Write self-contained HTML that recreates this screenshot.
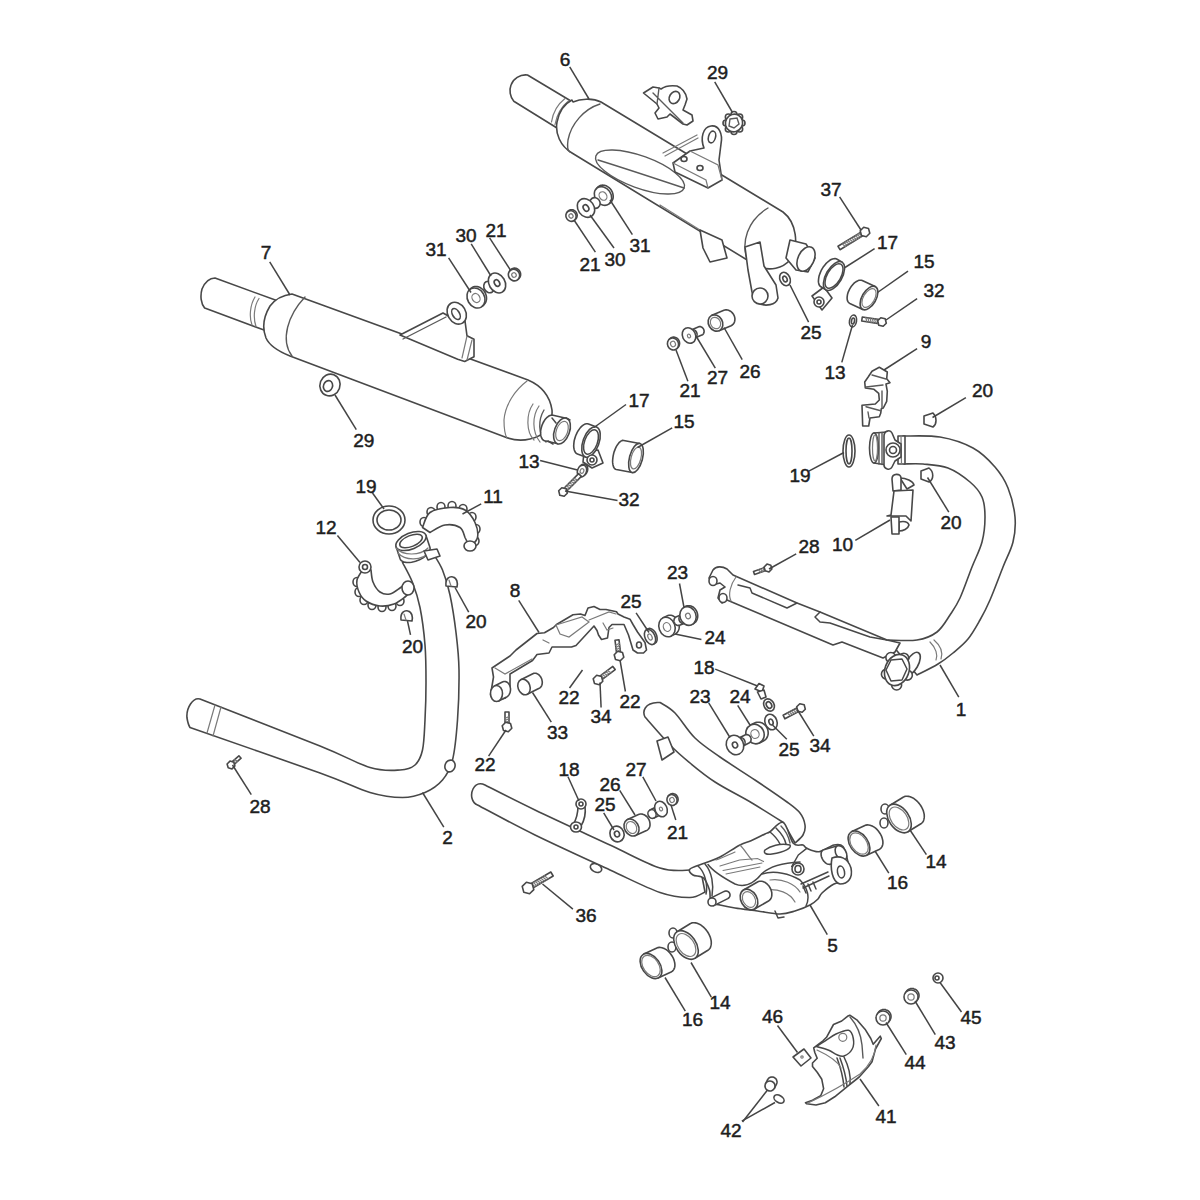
<!DOCTYPE html>
<html><head><meta charset="utf-8"><style>
html,body{margin:0;padding:0;background:#fff;overflow:hidden;}
svg{display:block;}
.o{fill:#fff;stroke:#484848;stroke-width:1.6;stroke-linejoin:round;stroke-linecap:round;}
.n{fill:none;stroke:#484848;stroke-width:1.5;stroke-linejoin:round;stroke-linecap:round;}
.d{fill:none;stroke:#7a7a7a;stroke-width:1.2;stroke-linecap:round;}
.m{fill:none;stroke:#5a5a5a;stroke-width:1.4;stroke-linecap:round;}
.l{stroke:#444;stroke-width:1.5;fill:none;}
text{font-family:"Liberation Sans",sans-serif;font-size:19px;fill:#1e1e1e;stroke:#1e1e1e;stroke-width:0.5px;text-anchor:middle;}
</style></head><body>
<svg width="1200" height="1200" viewBox="0 0 1200 1200">
<rect width="1200" height="1200" fill="#fff"/>

<path class="o" d="M215,278 L276,300.3 C269,308 265,318 264,330 L204.7,308.1 C201,304 200,296 202,289 C205,282 209,278 215,278 Z"/>
<path class="d" d="M255,297 C250,305 249,317 252,325 M259,298.5 C254,306 253,318 256,326.5"/>
<path class="o" d="M292,294 L528,380 C542,386 550,397 552,410 C553,425 545,436 530,439 C522,441 515,441 505,437 L290,356 C280,352 270,347 266,338 C262,328 264,316 270,306 C276,298 284,295 292,294 Z"/>
<path class="m" d="M305,297 C288,315 280,340 292,356"/>
<path class="d" d="M527,381 C515,390 505,405 504,420 C504,430 505,435 507,438"/>
<path class="d" d="M533,404 C526,414 526,432 534,440 M539,406 C532,416 532,432 540,442"/>
<path class="m" d="M544,410 C538,420 538,434 546,442"/>
<path class="o" d="M566.1,418.2 L553.1,415.2 L552.1,415.1 L551.1,415.2 L550.0,415.5 L548.9,416.0 L547.8,416.8 L546.7,417.7 L545.7,418.8 L544.7,420.1 L543.8,421.5 L543.0,423.0 L542.3,424.6 L541.7,426.3 L541.2,428.0 L540.8,429.7 L540.6,431.3 L540.6,432.9 L540.7,434.5 L540.9,435.9 L541.3,437.1 L541.8,438.3 L542.4,439.2 L543.1,440.0 L543.9,440.5 L544.9,440.8 L557.9,443.8 Z"/>
<ellipse cx="562" cy="431" rx="7.5" ry="13.5" transform="rotate(20 562 431)" class="o"/>
<ellipse cx="562" cy="431" rx="5.625" ry="10.125" transform="rotate(20 562 431)" class="d"/>
<path class="n" d="M552,418 L556,423 M548,441 L553,444 M566,418 L570,420"/>
<path class="o" d="M400,335 L443,313 L452,318 L465,321 L467,335.8 L474,339.3 L474,356.8 L464.7,361.5 L457.7,359.2 Z"/>
<path class="m" d="M403,339 L446,317"/>
<path class="d" d="M467,336 L462,358 M472,340 L467,360"/>
<ellipse cx="456.7" cy="313.2" rx="9" ry="11.5" transform="rotate(-30 456.7 313.2)" class="o"/>
<ellipse cx="456" cy="314" rx="3.5" ry="6" transform="rotate(-30 456 314)" class="o"/>
<ellipse cx="330" cy="385" rx="10" ry="11" transform="rotate(20 330 385)" class="o"/>
<ellipse cx="328" cy="386" rx="4.5" ry="5.5" transform="rotate(20 328 386)" class="o"/>
<path class="o" d="M482.7,306.0 L484.2,304.5 L484.9,303.6 L485.5,302.6 L486.0,301.6 L486.3,300.4 L486.5,299.1 L486.5,297.8 L486.4,296.5 L486.1,295.2 L485.7,293.9 L485.1,292.7 L484.4,291.5 L483.6,290.4 L482.7,289.4 L481.6,288.6 L480.6,287.8 L479.4,287.2 L478.3,286.8 L477.1,286.6 L475.9,286.5 L474.7,286.5 L473.6,286.8 L472.6,287.2 L471.7,287.8 L470.8,288.5 L469.3,290.0 Z"/>
<ellipse cx="476" cy="298" rx="8.5" ry="10.5" transform="rotate(-30 476 298)" class="o"/>
<ellipse cx="476" cy="298" rx="3.825" ry="4.7250000000000005" transform="rotate(-30 476 298)" class="d"/>
<ellipse cx="489" cy="287" rx="5" ry="6" transform="rotate(-30 489 287)" class="o"/>
<ellipse cx="497" cy="283" rx="8" ry="10.5" transform="rotate(-30 497 283)" class="o"/>
<ellipse cx="497" cy="283" rx="2.5" ry="3.5" transform="rotate(-30 497 283)" class="o"/>
<path class="o" d="M518.0,279.4 L519.0,278.4 L519.5,277.8 L519.9,277.2 L520.2,276.6 L520.5,275.8 L520.6,275.1 L520.6,274.3 L520.6,273.6 L520.4,272.8 L520.2,272.1 L519.8,271.4 L519.4,270.7 L518.9,270.1 L518.3,269.6 L517.7,269.1 L517.1,268.7 L516.4,268.4 L515.6,268.2 L514.9,268.1 L514.2,268.1 L513.4,268.2 L512.8,268.4 L512.1,268.7 L511.5,269.1 L511.0,269.6 L510.0,270.6 Z"/>
<ellipse cx="514" cy="275" rx="5.5" ry="6" transform="rotate(-30 514 275)" class="o"/>
<ellipse cx="514" cy="275" rx="2.2" ry="2.4000000000000004" transform="rotate(-30 514 275)" class="d"/>
<path class="o" d="M527.5,75 L573,102.2 C566,108 559,117 557,128 L513.8,101.3 C510,97 509,90 511,85 C513,79 520,74 527.5,75 Z"/>
<path class="d" d="M565,98.5 C558,104 553,112 551.5,122 M569,100.5 C562,106 557,114 555,124.5"/>
<path class="o" d="M573,102 C580,99 592,97.5 601,102 L783,212 C796,222 800,245 790,260 C783,268 770,272 757,266 L572,153 C560,146 555,133 557,122 C559,112 564,104 572,100 Z"/>
<path class="m" d="M600,104 C584,109 571,124 568,140 C567,147 568,151 570,152"/>
<path class="m" d="M768,208 C748,220 740,242 748,262"/>
<ellipse cx="640" cy="172" rx="47" ry="16" transform="rotate(20 640 172)" class="m"/>
<path class="m" d="M598,160 C630,170 660,180 684,188"/>
<path class="d" d="M660,205 L700,230"/>
<path class="o" d="M790,240 L806,244 L815,258 L808,272 L796,270 L786,258 Z"/>
<ellipse cx="806" cy="259" rx="8" ry="13" transform="rotate(25 806 259)" class="o"/>
<path class="o" d="M745,247 L760,242 L764,266 L776,285 L778,298 C776,305 766,307 757,303 L752,292 L748,270 Z"/>
<ellipse cx="760" cy="296" rx="8" ry="8" transform="rotate(0 760 296)" class="o"/>
<path class="o" d="M700,230 L722,240 L727,258 L710,262 L703,248 Z"/>
<path class="o" d="M704,148 C700,138 703,127 711,126 C719,125 723,134 721,144 L719,160 L722,180 L708,188 L675,172 L673,163 L690,151 Z"/>
<path class="d" d="M690,151 L718,165 L722,180 M673,163 L706,180 L708,188"/>
<ellipse cx="712" cy="137" rx="3.5" ry="6" transform="rotate(15 712 137)" class="o"/>
<ellipse cx="684" cy="159" rx="3" ry="2.5" transform="rotate(0 684 159)" class="o"/>
<ellipse cx="700" cy="168" rx="3" ry="2.5" transform="rotate(0 700 168)" class="o"/>
<path class="d" d="M663,153 L697,135 M665,156 L698,138"/>
<path class="o" d="M643.5,93 L653,87 L659,88 L661,89 C665,86 669,85 677,86 C682,88 686,93 687,99 L685,105 L683,110 L692,115 L693,121 L687,125 L683,124 L670,114 L667,117 L658,119 L655,113 L659,108 L657,104 Z"/>
<ellipse cx="674.5" cy="97.5" rx="5" ry="6.5" transform="rotate(30 674.5 97.5)" class="o"/>
<path class="m" d="M653,93 L683,123 M659,88 L657,104"/>
<ellipse cx="742.0" cy="123.0" rx="3" ry="3" transform="rotate(0 742.0 123.0)" class="o"/>
<ellipse cx="739.6568542494924" cy="129.01040764008565" rx="3" ry="3" transform="rotate(0 739.6568542494924 129.01040764008565)" class="o"/>
<ellipse cx="734.0" cy="131.5" rx="3" ry="3" transform="rotate(0 734.0 131.5)" class="o"/>
<ellipse cx="728.3431457505076" cy="129.01040764008565" rx="3" ry="3" transform="rotate(0 728.3431457505076 129.01040764008565)" class="o"/>
<ellipse cx="726.0" cy="123.0" rx="3" ry="3" transform="rotate(0 726.0 123.0)" class="o"/>
<ellipse cx="728.3431457505076" cy="116.98959235991434" rx="3" ry="3" transform="rotate(0 728.3431457505076 116.98959235991434)" class="o"/>
<ellipse cx="734.0" cy="114.5" rx="3" ry="3" transform="rotate(0 734.0 114.5)" class="o"/>
<ellipse cx="739.6568542494924" cy="116.98959235991434" rx="3" ry="3" transform="rotate(0 739.6568542494924 116.98959235991434)" class="o"/>
<ellipse cx="734" cy="123" rx="8.5" ry="9" transform="rotate(30 734 123)" class="o"/>
<path class="m" d="M730,119 L737,118 L739,124 L734,128 L729,126 Z"/>
<path class="o" d="M609.6,203.5 L611.1,202.0 L611.8,201.2 L612.3,200.2 L612.8,199.2 L613.1,198.1 L613.2,197.0 L613.2,195.8 L613.0,194.5 L612.7,193.3 L612.3,192.1 L611.7,190.9 L611.0,189.8 L610.2,188.8 L609.3,187.9 L608.3,187.1 L607.2,186.4 L606.1,185.8 L605.0,185.4 L603.9,185.2 L602.7,185.1 L601.6,185.2 L600.6,185.4 L599.6,185.8 L598.7,186.4 L597.9,187.0 L596.4,188.5 Z"/>
<ellipse cx="603" cy="196" rx="8" ry="10" transform="rotate(-35 603 196)" class="o"/>
<ellipse cx="603" cy="196" rx="3.6" ry="4.5" transform="rotate(-35 603 196)" class="d"/>
<ellipse cx="595" cy="203" rx="5" ry="5.5" transform="rotate(-35 595 203)" class="o"/>
<ellipse cx="586" cy="208" rx="8" ry="10" transform="rotate(-35 586 208)" class="o"/>
<ellipse cx="586" cy="208" rx="2.5" ry="3.5" transform="rotate(-35 586 208)" class="o"/>
<path class="o" d="M574.8,220.0 L575.8,219.0 L576.2,218.5 L576.6,217.9 L576.8,217.3 L577.0,216.7 L577.1,216.0 L577.2,215.3 L577.1,214.6 L577.0,213.9 L576.7,213.3 L576.4,212.6 L576.0,212.0 L575.5,211.5 L575.0,211.0 L574.5,210.5 L573.8,210.2 L573.2,209.9 L572.5,209.8 L571.8,209.7 L571.2,209.7 L570.5,209.8 L569.9,210.0 L569.3,210.2 L568.7,210.6 L568.2,211.0 L567.2,212.0 Z"/>
<ellipse cx="571" cy="216" rx="5" ry="5.5" transform="rotate(-35 571 216)" class="o"/>
<ellipse cx="571" cy="216" rx="2.0" ry="2.2" transform="rotate(-35 571 216)" class="d"/>
<path class="o" d="M812,296 L824,287 L832,298 L822,310 Z"/>
<path class="o" d="M842.1,262.2 L837.1,259.2 L836.1,258.8 L835.0,258.6 L833.8,258.7 L832.5,259.0 L831.2,259.5 L829.8,260.3 L828.5,261.3 L827.1,262.5 L825.7,263.9 L824.5,265.4 L823.2,267.1 L822.1,268.9 L821.1,270.7 L820.3,272.6 L819.6,274.5 L819.0,276.3 L818.7,278.1 L818.5,279.9 L818.4,281.5 L818.6,282.9 L818.9,284.2 L819.4,285.3 L820.1,286.2 L820.9,286.8 L825.9,289.8 Z"/>
<ellipse cx="834" cy="276" rx="8" ry="16" transform="rotate(30 834 276)" class="o"/>
<ellipse cx="834" cy="276" rx="6.8" ry="13.6" transform="rotate(30 834 276)" class="n"/>
<ellipse cx="819" cy="302" rx="5" ry="5" transform="rotate(0 819 302)" class="o"/>
<ellipse cx="819" cy="302" rx="2" ry="2" transform="rotate(0 819 302)" class="o"/>
<path class="o" d="M875.2,286.6 L862.2,280.6 L861.3,280.3 L860.3,280.2 L859.3,280.3 L858.2,280.6 L857.0,281.2 L855.9,281.8 L854.7,282.7 L853.6,283.7 L852.5,284.9 L851.4,286.2 L850.5,287.6 L849.6,289.1 L848.9,290.6 L848.2,292.1 L847.7,293.7 L847.4,295.2 L847.2,296.6 L847.1,298.0 L847.2,299.3 L847.4,300.4 L847.8,301.4 L848.4,302.3 L849.0,302.9 L849.8,303.4 L862.8,309.4 Z"/>
<ellipse cx="869" cy="298" rx="7" ry="13" transform="rotate(30 869 298)" class="o"/>
<ellipse cx="869" cy="298" rx="5.6000000000000005" ry="10.4" transform="rotate(30 869 298)" class="d"/>
<path class="o" d="M861.4,231.9 L838.0,246.3 L840.0,249.7 L863.5,235.3 Z"/>
<path class="d" d="M858.8,233.4 L862.3,236.0 M857.0,234.6 L860.4,237.2 M855.1,235.7 L858.6,238.3 M853.2,236.9 L856.7,239.5 M851.3,238.1 L854.8,240.6 M849.5,239.2 L852.9,241.8 M847.6,240.4 L851.1,242.9 M845.7,241.5 L849.2,244.1 M843.9,242.7 L847.3,245.2 M842.0,243.8 L845.4,246.4 "/>
<path class="o" d="M869.8,233.3 L866.3,236.8 L861.5,235.5 L860.2,230.7 L863.7,227.2 L868.5,228.5 Z"/>
<path class="o" d="M879.6,319.6 L862.3,317.0 L861.7,321.0 L879.0,323.6 Z"/>
<path class="d" d="M876.7,319.2 L877.6,323.4 M874.5,318.9 L875.5,323.0 M872.3,318.5 L873.3,322.7 M870.1,318.2 L871.1,322.4 M868.0,317.9 L868.9,322.1 M865.8,317.5 L866.8,321.7 "/>
<path class="o" d="M886.3,323.2 L883.2,326.3 L878.8,325.2 L877.7,320.8 L880.8,317.7 L885.2,318.8 Z"/>
<ellipse cx="853" cy="321" rx="3.5" ry="6" transform="rotate(10 853 321)" class="o"/>
<ellipse cx="853" cy="321" rx="1.5" ry="3" transform="rotate(10 853 321)" class="o"/>
<ellipse cx="785" cy="279" rx="5" ry="7" transform="rotate(-25 785 279)" class="o"/>
<ellipse cx="785" cy="279" rx="2" ry="3" transform="rotate(-25 785 279)" class="o"/>
<path class="o" d="M872.0,371.3 L879.3,367.3 L887.3,372.0 L886.7,378.7 L890.0,382.7 L886.0,384.0 L887.3,391.3 L886.7,401.3 L883.3,408.0 L881.3,408.7 L880.7,413.3 L879.3,416.7 L870.0,418.0 L868.7,426.0 L862.7,426.0 L862.0,405.3 L875.3,404.0 L879.3,400.0 L878.7,393.3 L874.0,389.3 L865.3,388.0 L864.7,382.0 L868.0,377.3 Z"/>
<path class="m" d="M872,375 L886,379 M866,387 L883,385 M866,406.7 L880.7,410.7 M882,391 L882,408 M868,412 L869,418"/>
<path class="o" d="M924,416 L933,413 C937,417 937,424 933,427 L924,424 Z"/>
<path class="o" d="M921,471 L929,468 C934,472 934,479 929,482 L921,479 Z"/>
<ellipse cx="849" cy="451" rx="6" ry="16" transform="rotate(0 849 451)" class="o"/>
<ellipse cx="849" cy="451" rx="3" ry="13" transform="rotate(0 849 451)" class="o"/>
<path class="o" d="M719.1,330.7 L731.1,325.7 L731.9,325.3 L732.6,324.7 L733.3,324.1 L733.8,323.3 L734.3,322.5 L734.6,321.5 L734.8,320.5 L734.9,319.5 L734.9,318.4 L734.7,317.4 L734.4,316.3 L734.0,315.3 L733.5,314.3 L732.8,313.4 L732.1,312.6 L731.3,311.8 L730.5,311.2 L729.5,310.7 L728.6,310.3 L727.6,310.0 L726.7,309.9 L725.7,309.9 L724.8,310.0 L723.9,310.3 L711.9,315.3 Z"/>
<ellipse cx="715.5" cy="323" rx="7" ry="8.5" transform="rotate(-30 715.5 323)" class="o"/>
<ellipse cx="715.5" cy="323" rx="4.8999999999999995" ry="5.949999999999999" transform="rotate(-30 715.5 323)" class="d"/>
<path class="o" d="M694.8,338.1 L701.8,335.1 L702.3,334.9 L702.7,334.6 L703.1,334.2 L703.4,333.8 L703.7,333.3 L703.9,332.8 L704.0,332.3 L704.1,331.7 L704.1,331.1 L704.0,330.5 L703.9,330.0 L703.7,329.4 L703.4,328.9 L703.1,328.4 L702.7,328.0 L702.3,327.6 L701.8,327.2 L701.3,327.0 L700.8,326.8 L700.3,326.6 L699.7,326.6 L699.2,326.6 L698.7,326.7 L698.2,326.9 L691.2,329.9 Z"/>
<ellipse cx="693" cy="334" rx="4" ry="4.5" transform="rotate(-25 693 334)" class="o"/>
<ellipse cx="689" cy="335.5" rx="6.5" ry="8" transform="rotate(-25 689 335.5)" class="o"/>
<ellipse cx="689" cy="336" rx="1.5" ry="2" transform="rotate(-25 689 336)" class="d"/>
<path class="o" d="M677.0,348.4 L678.0,347.4 L678.5,346.9 L678.9,346.3 L679.2,345.6 L679.4,344.9 L679.5,344.1 L679.6,343.4 L679.5,342.6 L679.4,341.8 L679.2,341.1 L678.8,340.4 L678.4,339.7 L677.9,339.1 L677.4,338.5 L676.8,338.1 L676.1,337.7 L675.4,337.4 L674.7,337.2 L674.0,337.1 L673.2,337.1 L672.5,337.2 L671.8,337.4 L671.2,337.7 L670.6,338.1 L670.0,338.6 L669.0,339.6 Z"/>
<ellipse cx="673" cy="344" rx="5.5" ry="6" transform="rotate(-25 673 344)" class="o"/>
<ellipse cx="673" cy="344" rx="2.475" ry="2.7" transform="rotate(-25 673 344)" class="d"/>
<path class="o" d="M903.0,436.0 C909.2,436.2 928.3,435.0 940.0,437.0 C951.7,439.0 963.8,443.0 973.0,448.0 C982.2,453.0 989.2,460.3 995.0,467.0 C1000.8,473.7 1004.7,479.7 1008.0,488.0 C1011.3,496.3 1014.2,508.0 1015.0,517.0 C1015.8,526.0 1015.0,533.7 1013.0,542.0 C1011.0,550.3 1006.8,557.3 1003.0,567.0 C999.2,576.7 993.8,591.2 990.0,600.0 C986.2,608.8 983.7,613.5 980.0,620.0 C976.3,626.5 972.5,633.5 968.0,639.0 C963.5,644.5 958.0,648.8 953.0,653.0 C948.0,657.2 944.0,660.3 938.0,664.0 C932.0,667.7 920.5,673.2 917.0,675.0 L888.0,640.0 C892.8,640.0 908.8,641.3 917.0,640.0 C925.2,638.7 931.5,636.2 937.0,632.0 C942.5,627.8 946.2,620.7 950.0,615.0 C953.8,609.3 956.3,606.0 960.0,598.0 C963.7,590.0 968.3,576.3 972.0,567.0 C975.7,557.7 979.8,550.3 982.0,542.0 C984.2,533.7 985.0,524.5 985.0,517.0 C985.0,509.5 984.5,502.8 982.0,497.0 C979.5,491.2 975.7,486.8 970.0,482.0 C964.3,477.2 955.8,471.0 948.0,468.0 C940.2,465.0 930.3,464.7 923.0,464.0 C915.7,463.3 907.2,464.0 904.0,464.0 Z"/>
<path class="o" d="M898,436 L905,436 L905,464 L898,464 Z"/>
<path class="d" d="M901,436 L901.5,464"/>
<path class="o" d="M874,433 L887,432 L887,465 L874,463 Z"/>
<ellipse cx="874" cy="448" rx="4.5" ry="15" transform="rotate(0 874 448)" class="o"/>
<ellipse cx="875" cy="448" rx="2.5" ry="13" transform="rotate(0 875 448)" class="d"/>
<path class="m" d="M879,433 L879,464 M882,432.5 L882,464.5"/>
<path class="o" d="M884,436 C884,431 890,429 892,433 L895,440 L901,444 L901,457 L895,461 L892,467 C890,471 884,469 884,465 Z"/>
<ellipse cx="893" cy="450" rx="7" ry="7" transform="rotate(0 893 450)" class="o"/>
<ellipse cx="893" cy="450" rx="3.5" ry="3.5" transform="rotate(0 893 450)" class="o"/>
<path class="o" d="M713,570 C716,566 722,566 727,569 L733,575 L797,603 L820,612 L887,640 L900,643 L895,652 L883,658 L842,642 L833,645 L727,600 L722,603 L718,598 L720,590 L725,587 L720,583 L712,585 L709,578 Z"/>
<path class="n" d="M738,585 L750,588 L752,593 L787,608 L797,603 M820,612 L815,617 L820,622 L830,623 L870,637 L887,640"/>
<path class="d" d="M736,577 C730,585 728,595 731,601"/>
<ellipse cx="713" cy="581" rx="4" ry="4.5" transform="rotate(0 713 581)" class="o"/>
<ellipse cx="723" cy="598" rx="4" ry="4.5" transform="rotate(0 723 598)" class="o"/>
<ellipse cx="912" cy="664" rx="6" ry="13" transform="rotate(30 912 664)" class="o"/>
<path class="d" d="M930,642 C936,648 938,655 936,660 M934,640 C941,646 943,653 941,659"/>
<ellipse cx="907.336618828645" cy="675.130302149885" rx="5" ry="5" transform="rotate(0 907.336618828645 675.130302149885)" class="o"/>
<ellipse cx="896.6161055362725" cy="684.9908624052864" rx="5" ry="5" transform="rotate(0 896.6161055362725 684.9908624052864)" class="o"/>
<ellipse cx="886.4261213446784" cy="674.134560337255" rx="5" ry="5" transform="rotate(0 886.4261213446784 674.134560337255)" class="o"/>
<ellipse cx="890.8488780618218" cy="657.5644364116744" rx="5" ry="5" transform="rotate(0 890.8488780618218 657.5644364116744)" class="o"/>
<ellipse cx="903.7722762285822" cy="658.1798386958992" rx="5" ry="5" transform="rotate(0 903.7722762285822 658.1798386958992)" class="o"/>
<ellipse cx="897" cy="670" rx="12" ry="16" transform="rotate(20 897 670)" class="o"/>
<path class="n" d="M891,660 L902,659 L907,669 L902,680 L891,681 L886,670 Z"/>
<path class="o" d="M765.2,567.3 L753.5,571.5 L754.5,574.5 L766.3,570.3 Z"/>
<path class="d" d="M762.4,568.3 L765.0,570.8 M760.3,569.0 L762.9,571.5 M758.2,569.8 L760.8,572.3 "/>
<path class="o" d="M771.9,569.0 L769.0,571.9 L765.2,570.8 L764.1,567.0 L767.0,564.1 L770.8,565.2 Z"/>
<path class="o" d="M402.5,562.5 C404.2,565.8 409.6,575.0 412.5,582.5 C415.4,590.0 417.9,597.1 420.0,607.5 C422.1,617.9 424.0,632.5 425.0,645.0 C426.0,657.5 426.0,670.0 426.0,682.5 C426.0,695.0 425.6,708.8 425.0,720.0 C424.4,731.2 424.2,742.5 422.5,750.0 C420.8,757.5 418.8,761.7 415.0,765.0 C411.2,768.3 407.5,769.6 400.0,770.0 C392.5,770.4 383.3,771.5 370.0,767.5 C356.7,763.5 348.3,757.4 320.0,746.0 C291.7,734.6 220.0,706.8 200.0,699.0 C193,697 186,708 187,718 C188,724 189,726 190,727.5 C211.7,735.1 290.0,762.2 320.0,773.0 C350.0,783.8 356.2,788.4 370.0,792.5 C383.8,796.6 393.3,797.5 402.5,797.5 C411.7,797.5 418.3,795.4 425.0,792.5 C431.7,789.6 437.9,785.4 442.5,780.0 C447.1,774.6 450.0,770.0 452.5,760.0 C455.0,750.0 456.4,735.0 457.5,720.0 C458.6,705.0 459.2,684.6 459.0,670.0 C458.8,655.4 457.5,645.0 456.0,632.5 C454.5,620.0 452.2,605.4 450.0,595.0 C447.8,584.6 445.4,577.1 442.5,570.0 C439.6,562.9 434.2,555.4 432.5,552.5 Z"/>
<ellipse cx="450" cy="766" rx="5" ry="6" transform="rotate(20 450 766)" class="o"/>
<path class="d" d="M215,705 L207,733 M221,707 L213,736"/>
<path class="o" d="M396.1,546.8 L400.1,558.8 L400.5,559.7 L401.2,560.5 L402.2,561.2 L403.3,561.8 L404.7,562.2 L406.2,562.4 L407.9,562.5 L409.7,562.5 L411.6,562.2 L413.6,561.8 L415.6,561.3 L417.5,560.6 L419.5,559.8 L421.3,558.9 L423.1,557.8 L424.7,556.7 L426.1,555.5 L427.3,554.3 L428.4,553.1 L429.2,551.8 L429.8,550.6 L430.1,549.4 L430.1,548.3 L429.9,547.2 L425.9,535.2 Z"/>
<ellipse cx="411" cy="541" rx="16" ry="8" transform="rotate(-22 411 541)" class="o"/>
<ellipse cx="411" cy="541" rx="12" ry="5.5" transform="rotate(-22 411 541)" class="n"/>
<path class="d" d="M396,548 C403,556 420,556 428,548 M398,553 C405,561 422,561 430,552"/>
<path class="o" d="M424,551 L437,549 L440,556 L428,560 Z"/>
<ellipse cx="389" cy="520" rx="16" ry="14" transform="rotate(0 389 520)" class="o"/>
<ellipse cx="389" cy="520" rx="12" ry="10" transform="rotate(0 389 520)" class="o"/>
<ellipse cx="424" cy="522" rx="4" ry="4.5" transform="rotate(0 424 522)" class="o"/>
<ellipse cx="431" cy="512" rx="4" ry="4.5" transform="rotate(0 431 512)" class="o"/>
<ellipse cx="441" cy="507" rx="4" ry="4.5" transform="rotate(0 441 507)" class="o"/>
<ellipse cx="452" cy="506" rx="4" ry="4.5" transform="rotate(0 452 506)" class="o"/>
<ellipse cx="463" cy="509" rx="4" ry="4.5" transform="rotate(0 463 509)" class="o"/>
<ellipse cx="472" cy="517" rx="4" ry="4.5" transform="rotate(0 472 517)" class="o"/>
<ellipse cx="476" cy="529" rx="4" ry="4.5" transform="rotate(0 476 529)" class="o"/>
<ellipse cx="475" cy="541" rx="4" ry="4.5" transform="rotate(0 475 541)" class="o"/>
<path class="o" d="M422.5,527.5 C423.8,525.0 425.4,515.8 430.0,512.5 C434.6,509.2 444.2,507.9 450.0,507.5 C455.8,507.1 460.8,507.5 465.0,510.0 C469.2,512.5 472.9,517.9 475.0,522.5 C477.1,527.1 478.3,533.3 477.5,537.5 C476.7,541.7 471.2,545.8 470.0,547.5 L465.0,537.5 C464.2,535.8 463.3,529.6 460.0,527.5 C456.7,525.4 450.0,524.2 445.0,525.0 C440.0,525.8 432.5,531.2 430.0,532.5 Z"/>
<ellipse cx="470" cy="546" rx="6" ry="5" transform="rotate(0 470 546)" class="o"/>
<ellipse cx="357" cy="582" rx="4" ry="4.5" transform="rotate(0 357 582)" class="o"/>
<ellipse cx="359" cy="592" rx="4" ry="4.5" transform="rotate(0 359 592)" class="o"/>
<ellipse cx="364" cy="600" rx="4" ry="4.5" transform="rotate(0 364 600)" class="o"/>
<ellipse cx="372" cy="605" rx="4" ry="4.5" transform="rotate(0 372 605)" class="o"/>
<ellipse cx="382" cy="607" rx="4" ry="4.5" transform="rotate(0 382 607)" class="o"/>
<ellipse cx="392" cy="606" rx="4" ry="4.5" transform="rotate(0 392 606)" class="o"/>
<ellipse cx="400" cy="601" rx="4" ry="4.5" transform="rotate(0 400 601)" class="o"/>
<path class="o" d="M364.0,568.0 C362.8,570.0 357.8,576.0 357.0,580.0 C356.2,584.0 357.5,588.5 359.0,592.0 C360.5,595.5 362.5,598.7 366.0,601.0 C369.5,603.3 375.3,605.5 380.0,606.0 C384.7,606.5 389.8,605.5 394.0,604.0 C398.2,602.5 402.0,599.3 405.0,597.0 C408.0,594.7 410.8,591.2 412.0,590.0 L407.0,582.0 C405.8,583.0 402.8,586.0 400.0,588.0 C397.2,590.0 393.3,593.3 390.0,594.0 C386.7,594.7 382.8,594.0 380.0,592.0 C377.2,590.0 374.5,585.7 373.0,582.0 C371.5,578.3 371.3,572.0 371.0,570.0 Z"/>
<ellipse cx="365" cy="567" rx="6" ry="6" transform="rotate(0 365 567)" class="o"/>
<ellipse cx="365" cy="567" rx="2.5" ry="2.5" transform="rotate(0 365 567)" class="o"/>
<ellipse cx="408" cy="588" rx="6" ry="7" transform="rotate(0 408 588)" class="o"/>
<path class="o" d="M446,586 C445,578 450,576 453,577 C457,578 458,583 457,587 Z"/>
<path class="d" d="M449,580 L451,586"/>
<path class="o" d="M401,620 C400,612 405,610 408,611 C412,612 413,617 412,621 Z"/>
<path class="d" d="M404,614 L406,620"/>
<path class="o" d="M233.9,764.6 L241.1,758.2 L238.9,755.8 L231.7,762.2 Z"/>
<path class="d" d="M236.1,762.6 L232.8,761.3 M237.7,761.1 L234.4,759.8 "/>
<path class="o" d="M234.9,766.0 L232.0,768.9 L228.2,767.8 L227.1,764.0 L230.0,761.1 L233.8,762.2 Z"/>
<path class="o" d="M492.0,668.0 L510.0,656.0 L516.0,650.0 L537.0,633.5 L544.5,632.8 L553.5,627.5 L556.5,624.5 L573.0,614.8 L580.5,614.0 L585.0,615.5 L588.0,608.0 L594.0,606.5 L600.0,609.5 L606.0,609.5 L616.5,611.8 L618.0,614.0 L624.0,617.0 L630.0,619.2 L633.0,624.5 L637.5,632.0 L645.0,642.5 L646.5,650.0 L643.5,653.0 L637.5,653.0 L633.0,650.0 L628.5,635.0 L624.0,624.5 L612.0,624.5 L609.0,627.5 L607.5,638.0 L601.5,639.5 L598.5,635.0 L597.0,630.5 L594.0,626.0 L576.0,645.5 L571.5,647.0 L552.0,647.0 L549.0,653.0 L537.0,654.5 L532.5,660.5 L510.0,674.0 L510.0,687.5 L505.5,698.0 L495.0,701.0 L490.5,695.0 L492.0,686.0 L493.5,677.0 Z"/>
<path class="o" d="M498.6,701.0 L506.6,697.0 L507.3,696.6 L508.0,696.0 L508.6,695.3 L509.1,694.6 L509.6,693.7 L510.0,692.8 L510.2,691.8 L510.4,690.8 L510.5,689.8 L510.5,688.7 L510.3,687.7 L510.1,686.7 L509.8,685.7 L509.4,684.8 L508.9,684.0 L508.3,683.3 L507.7,682.7 L507.0,682.2 L506.2,681.8 L505.5,681.6 L504.7,681.5 L503.9,681.5 L503.1,681.7 L502.4,682.0 L494.4,686.0 Z"/>
<ellipse cx="496.5" cy="693.5" rx="6" ry="8" transform="rotate(0 496.5 693.5)" class="o"/>
<path class="d" d="M495,668 L505,674 L532,659 M556,625 L582,617 L589,622 L569,637 L560,634 Z M543,640 L549,643 M589,620 L609,612 L616,614"/>
<path class="d" d="M603,623 L607,630 L613,628"/>
<ellipse cx="639" cy="645" rx="2.5" ry="3" transform="rotate(0 639 645)" class="o"/>
<path class="o" d="M653.8,644.0 L655.3,643.0 L655.8,642.6 L656.3,642.1 L656.6,641.4 L656.9,640.7 L657.1,639.9 L657.1,639.0 L657.1,638.1 L657.0,637.1 L656.8,636.1 L656.5,635.1 L656.1,634.1 L655.7,633.2 L655.2,632.3 L654.6,631.5 L653.9,630.7 L653.2,630.1 L652.5,629.5 L651.8,629.1 L651.0,628.7 L650.3,628.5 L649.6,628.4 L648.9,628.5 L648.3,628.7 L647.7,629.0 L646.2,630.0 Z"/>
<ellipse cx="650" cy="637" rx="5" ry="8" transform="rotate(-25 650 637)" class="o"/>
<ellipse cx="650" cy="637" rx="2.0" ry="3.2" transform="rotate(-25 650 637)" class="d"/>
<path class="o" d="M620.6,652.8 L619.0,639.8 L615.0,640.2 L616.6,653.3 Z"/>
<path class="d" d="M620.2,649.8 L616.5,651.9 M620.0,647.6 L616.2,649.7 M619.7,645.4 L615.9,647.5 M619.4,643.2 L615.7,645.3 "/>
<path class="o" d="M623.8,657.3 L620.3,660.8 L615.5,659.5 L614.2,654.7 L617.7,651.2 L622.5,652.5 Z"/>
<path class="o" d="M601.6,679.8 L615.2,669.6 L612.8,666.4 L599.2,676.6 Z"/>
<path class="d" d="M604.0,678.0 L600.3,675.8 M605.8,676.7 L602.1,674.4 M607.5,675.4 L603.8,673.1 M609.3,674.0 L605.6,671.8 M611.0,672.7 L607.4,670.5 "/>
<path class="o" d="M602.8,681.3 L599.3,684.8 L594.5,683.5 L593.2,678.7 L596.7,675.2 L601.5,676.5 Z"/>
<path class="o" d="M527.2,694.3 L539.2,688.3 L539.9,687.9 L540.5,687.4 L541.0,686.7 L541.5,686.0 L541.8,685.2 L542.1,684.3 L542.2,683.3 L542.3,682.3 L542.2,681.3 L542.0,680.3 L541.8,679.3 L541.4,678.3 L540.9,677.4 L540.4,676.5 L539.7,675.7 L539.1,675.0 L538.3,674.4 L537.5,673.9 L536.7,673.6 L535.9,673.3 L535.1,673.2 L534.3,673.2 L533.5,673.4 L532.8,673.7 L520.8,679.7 Z"/>
<ellipse cx="524" cy="687" rx="6" ry="8" transform="rotate(-20 524 687)" class="o"/>
<path class="o" d="M509.0,724.0 L509.0,712.0 L505.0,712.0 L505.0,724.0 Z"/>
<path class="d" d="M509.0,721.0 L505.0,722.6 M509.0,718.8 L505.0,720.4 M509.0,716.6 L505.0,718.2 "/>
<path class="o" d="M511.8,728.3 L508.3,731.8 L503.5,730.5 L502.2,725.7 L505.7,722.2 L510.5,723.5 Z"/>
<path class="o" d="M671.1,636.1 L675.1,634.1 L676.0,633.6 L676.8,632.9 L677.5,632.0 L678.1,631.1 L678.6,630.0 L679.0,628.9 L679.2,627.7 L679.3,626.4 L679.2,625.2 L679.0,623.9 L678.6,622.6 L678.2,621.4 L677.6,620.3 L676.9,619.2 L676.1,618.2 L675.2,617.3 L674.2,616.6 L673.2,616.0 L672.1,615.6 L671.0,615.3 L670.0,615.2 L668.9,615.3 L667.9,615.5 L666.9,615.9 L662.9,617.9 Z"/>
<ellipse cx="667" cy="627" rx="8" ry="10" transform="rotate(-20 667 627)" class="o"/>
<ellipse cx="667" cy="627" rx="3.6" ry="4.5" transform="rotate(-20 667 627)" class="d"/>
<path class="o" d="M681.4,614.8 L676.4,616.8 L675.9,617.0 L675.5,617.3 L675.1,617.7 L674.7,618.1 L674.4,618.6 L674.2,619.1 L674.1,619.6 L674.0,620.2 L673.9,620.8 L674.0,621.4 L674.1,621.9 L674.3,622.5 L674.5,623.0 L674.8,623.5 L675.2,624.0 L675.6,624.4 L676.1,624.7 L676.5,625.0 L677.0,625.2 L677.6,625.4 L678.1,625.4 L678.6,625.4 L679.1,625.3 L679.6,625.2 L684.6,623.2 Z"/>
<ellipse cx="683" cy="619" rx="4" ry="4.5" transform="rotate(-20 683 619)" class="o"/>
<path class="o" d="M692.7,624.2 L694.2,623.2 L695.0,622.5 L695.8,621.8 L696.4,620.9 L696.9,619.9 L697.3,618.8 L697.6,617.6 L697.7,616.4 L697.7,615.2 L697.5,614.0 L697.2,612.8 L696.8,611.6 L696.2,610.5 L695.5,609.5 L694.8,608.6 L693.9,607.7 L693.0,607.0 L692.0,606.5 L690.9,606.0 L689.9,605.8 L688.8,605.7 L687.7,605.7 L686.7,605.9 L685.7,606.3 L684.8,606.8 L683.3,607.8 Z"/>
<ellipse cx="688" cy="616" rx="8" ry="9.5" transform="rotate(-20 688 616)" class="o"/>
<ellipse cx="688" cy="616" rx="2.4" ry="2.85" transform="rotate(-20 688 616)" class="d"/>
<ellipse cx="596" cy="868" rx="6" ry="4" transform="rotate(25 596 868)" class="o"/>
<path class="o" d="M485.0,785.0 C493.3,789.2 514.2,800.0 535.0,810.0 C555.8,820.0 589.2,835.3 610.0,845.0 C630.8,854.7 646.7,863.8 660.0,868.0 C673.3,872.2 683.3,870.3 690.0,870.0 C696.7,869.7 698.3,866.7 700.0,866.0 L705.0,892.0 C702.5,892.9 697.5,897.4 690.0,897.5 C682.5,897.6 673.3,897.1 660.0,892.5 C646.7,887.9 630.8,879.6 610.0,870.0 C589.2,860.4 557.1,845.8 535.0,835.0 C512.9,824.2 487.1,810.0 477.5,805.0 C472,803 470,795 473,789 C476,783 481,783 485,785 Z"/>
<path class="o" d="M660.0,702.5 C662.5,704.2 669.2,707.1 675.0,713.0 C680.8,718.9 687.5,730.7 695.0,738.0 C702.5,745.3 710.0,750.0 720.0,757.0 C730.0,764.0 743.8,772.5 755.0,780.0 C766.2,787.5 779.5,796.5 787.0,802.0 C794.5,807.5 797.0,809.2 800.0,813.0 C803.0,816.8 804.5,821.3 805.0,825.0 C805.5,828.7 804.7,832.0 803.0,835.0 C801.3,838.0 796.3,841.7 795.0,843.0 L783.3,822.5 C778.1,819.2 763.4,809.8 752.0,803.0 C740.6,796.2 725.3,788.7 715.0,782.0 C704.7,775.3 697.5,769.2 690.0,763.0 C682.5,756.8 677.5,752.7 670.0,745.0 C662.5,737.3 649.2,721.7 645.0,717.0 C642,711 645,703 657.5,702.5 Z"/>
<path class="o" d="M657,741 L668,737 L674,752 L662,760 Z"/>
<path class="o" d="M690.0,869.0 C692.0,867.0 700.0,865.0 705.0,863.0 C710.0,861.0 714.2,860.0 720.0,857.0 C725.8,854.0 734.8,847.7 740.0,845.0 C745.2,842.3 746.8,842.6 751.0,840.8 C755.2,839.0 761.8,835.5 765.0,834.0 C768.2,832.5 767.0,833.6 770.0,831.7 C773.0,829.8 779.4,820.6 783.3,822.5 C787.2,824.4 790.0,839.5 793.3,843.3 C796.6,847.0 800.8,844.2 803.0,845.0 C805.2,845.8 804.0,847.2 806.7,848.3 C809.4,849.4 814.5,852.2 819.0,851.7 C823.5,851.2 830.0,845.9 834.0,845.0 C838.0,844.1 840.8,844.0 843.0,846.5 C845.2,849.0 846.2,855.2 847.5,860.0 C848.8,864.8 850.8,871.5 850.5,875.0 C850.2,878.5 848.8,879.5 846.0,881.0 C843.2,882.5 838.0,882.0 834.0,884.0 C830.0,886.0 824.7,890.5 822.0,893.0 C819.3,895.5 820.0,897.0 818.0,899.0 C816.0,901.0 813.8,903.0 810.0,905.0 C806.2,907.0 800.0,909.5 795.0,911.0 C790.0,912.5 786.2,914.0 780.0,914.0 C773.8,914.0 765.0,912.0 757.5,911.0 C750.0,910.0 741.2,909.0 735.0,908.0 C728.8,907.0 724.0,906.0 720.0,905.0 C716.0,904.0 712.8,904.5 711.0,902.0 C709.2,899.5 710.8,894.0 709.5,890.0 C708.2,886.0 706.2,880.5 703.5,878.0 C700.8,875.5 695.2,876.5 693.0,875.0 C690.8,873.5 688.0,871.0 690.0,869.0 Z"/>
<path class="n" d="M770,832 C775,836 778,840 780,844 M776,828 C781,833 785,839 786,844"/>
<path class="m" d="M781,826 C786,831 789,838 790,843"/>
<path class="n" d="M698,866 C705,872 708,885 706,894 M705,864 C712,872 714,885 712,896"/>
<path class="d" d="M720,866 L739.5,860 L757.5,858.5 L763.5,861.5 M723,870.5 L762,863 M726,874 L760,867"/>
<path class="n" d="M765,850 C770,846 780,843 790,845 C792,848 785,852 772,854 C766,855 763,853 765,850 Z"/>
<path class="n" d="M806.7,848.3 L798.3,855 L791.7,866.7"/>
<path class="d" d="M716,860 C722,858 728,855 735,852"/>
<path class="n" d="M708,864.5 C712,870 720,876 735,884 C742,887 752,886 762,873.5 C770,866 782,863 800,862"/>
<path class="d" d="M740,845 C745,850 748,856 752,860"/>
<path class="n" d="M762,874 C775,870 790,874 800,880 C808,888 810,898 806,906"/>
<path class="d" d="M770,880 C782,878 795,884 800,892 M765,890 C778,888 790,893 795,902"/>
<path class="o" d="M837.7,845.8 L823.7,849.8 L823.1,850.0 L822.6,850.4 L822.1,850.9 L821.7,851.4 L821.4,852.1 L821.2,852.9 L821.1,853.7 L821.1,854.6 L821.2,855.5 L821.4,856.5 L821.7,857.4 L822.1,858.4 L822.6,859.3 L823.1,860.2 L823.7,861.1 L824.4,861.8 L825.1,862.5 L825.9,863.1 L826.6,863.6 L827.4,864.0 L828.2,864.2 L828.9,864.3 L829.6,864.4 L830.3,864.2 L844.3,860.2 Z"/>
<ellipse cx="841" cy="853" rx="5" ry="8" transform="rotate(-30 841 853)" class="o"/>
<path class="o" d="M832,858 C840,855 848,858 851,868 C853,878 848,884 840,884 C832,882 830,868 832,858 Z"/>
<ellipse cx="841" cy="872" rx="3.5" ry="6" transform="rotate(-10 841 872)" class="o"/>
<ellipse cx="798" cy="869" rx="6" ry="6" transform="rotate(0 798 869)" class="o"/>
<ellipse cx="798" cy="869" rx="3" ry="3.5" transform="rotate(0 798 869)" class="o"/>
<path class="n" d="M801,884 L828,872 M803,888 L829,876"/>
<path class="n" d="M803,886 L806,893 M808,884 L811,891 M813,882 L816,889"/>
<path class="n" d="M775,911 L778,918 L784,917"/>
<path class="o" d="M754.5,909.0 L768.5,901.0 L769.3,900.4 L770.1,899.7 L770.7,898.8 L771.2,897.8 L771.6,896.7 L771.8,895.4 L771.8,894.2 L771.8,892.8 L771.5,891.5 L771.1,890.1 L770.6,888.8 L769.9,887.5 L769.2,886.3 L768.3,885.2 L767.3,884.2 L766.3,883.3 L765.2,882.5 L764.0,881.9 L762.9,881.5 L761.7,881.3 L760.6,881.2 L759.5,881.3 L758.5,881.5 L757.5,882.0 L743.5,890.0 Z"/>
<ellipse cx="749" cy="899.5" rx="8" ry="11" transform="rotate(-30 749 899.5)" class="o"/>
<ellipse cx="749" cy="899.5" rx="6.0" ry="8.25" transform="rotate(-30 749 899.5)" class="d"/>
<path class="o" d="M713.8,905.6 L727.8,898.6 L728.2,898.3 L728.7,898.0 L729.0,897.6 L729.3,897.2 L729.6,896.7 L729.8,896.3 L729.9,895.8 L730.0,895.2 L730.0,894.7 L729.9,894.2 L729.8,893.7 L729.6,893.2 L729.3,892.8 L729.0,892.3 L728.6,892.0 L728.2,891.7 L727.7,891.4 L727.3,891.2 L726.8,891.1 L726.2,891.0 L725.7,891.0 L725.2,891.1 L724.7,891.2 L724.2,891.4 L710.2,898.4 Z"/>
<ellipse cx="712" cy="902" rx="4" ry="4" transform="rotate(0 712 902)" class="o"/>
<path class="o" d="M755,689 L759,683.5 L764,686 L762,692 Z"/>
<path class="o" d="M757.5,692 L764,690 L766,697 L761,699 Z"/>
<ellipse cx="769" cy="705" rx="5" ry="6.5" transform="rotate(-30 769 705)" class="o"/>
<ellipse cx="769" cy="705" rx="2.5" ry="3.5" transform="rotate(-30 769 705)" class="o"/>
<ellipse cx="771" cy="722" rx="6" ry="8" transform="rotate(-20 771 722)" class="o"/>
<ellipse cx="771" cy="722" rx="2" ry="3" transform="rotate(-20 771 722)" class="o"/>
<path class="o" d="M759.4,743.0 L763.4,741.0 L764.4,740.4 L765.4,739.6 L766.2,738.7 L766.9,737.8 L767.4,736.7 L767.8,735.5 L768.1,734.3 L768.2,733.0 L768.1,731.7 L767.9,730.4 L767.6,729.2 L767.1,728.0 L766.4,726.8 L765.6,725.8 L764.7,724.8 L763.8,724.0 L762.7,723.3 L761.6,722.8 L760.4,722.4 L759.2,722.2 L758.0,722.2 L756.8,722.3 L755.7,722.6 L754.6,723.0 L750.6,725.0 Z"/>
<ellipse cx="755" cy="734" rx="9" ry="10" transform="rotate(-25 755 734)" class="o"/>
<ellipse cx="755" cy="734" rx="4.05" ry="4.5" transform="rotate(-25 755 734)" class="d"/>
<path class="o" d="M743.0,746.0 L749.0,743.0 L749.4,742.8 L749.8,742.4 L750.2,742.0 L750.5,741.6 L750.8,741.1 L750.9,740.6 L751.0,740.0 L751.1,739.5 L751.1,738.9 L751.0,738.3 L750.8,737.8 L750.6,737.2 L750.3,736.7 L749.9,736.2 L749.5,735.8 L749.1,735.4 L748.6,735.1 L748.1,734.9 L747.6,734.7 L747.1,734.6 L746.5,734.6 L746.0,734.6 L745.5,734.8 L745.0,735.0 L739.0,738.0 Z"/>
<ellipse cx="741" cy="742" rx="4" ry="4.5" transform="rotate(-25 741 742)" class="o"/>
<ellipse cx="735" cy="745" rx="8.5" ry="10" transform="rotate(-25 735 745)" class="o"/>
<ellipse cx="735" cy="745" rx="2.5" ry="3" transform="rotate(-25 735 745)" class="o"/>
<path class="o" d="M797.7,707.5 L783.1,715.2 L784.9,718.8 L799.5,711.0 Z"/>
<path class="d" d="M795.0,708.9 L798.3,711.7 M793.1,709.9 L796.4,712.7 M791.1,711.0 L794.4,713.7 M789.2,712.0 L792.5,714.8 M787.2,713.0 L790.5,715.8 "/>
<path class="o" d="M805.3,709.2 L802.2,712.3 L797.8,711.2 L796.7,706.8 L799.8,703.7 L804.2,704.8 Z"/>
<path class="o" d="M578,806 L585,806 C586,814 584,821 581,826 L573,825 C576,820 578,813 578,806 Z"/>
<ellipse cx="581" cy="804" rx="5" ry="5" transform="rotate(0 581 804)" class="o"/>
<ellipse cx="581" cy="804" rx="2" ry="2" transform="rotate(0 581 804)" class="o"/>
<ellipse cx="576" cy="827" rx="5.5" ry="5" transform="rotate(0 576 827)" class="o"/>
<ellipse cx="576" cy="827" rx="2" ry="2" transform="rotate(0 576 827)" class="o"/>
<ellipse cx="617" cy="834" rx="7" ry="8" transform="rotate(-20 617 834)" class="o"/>
<ellipse cx="617" cy="834" rx="2.5" ry="3" transform="rotate(-20 617 834)" class="o"/>
<path class="o" d="M635.5,835.5 L646.5,830.5 L647.3,830.1 L648.0,829.5 L648.7,828.8 L649.2,828.0 L649.6,827.1 L649.9,826.1 L650.0,825.1 L650.0,824.0 L649.9,822.9 L649.7,821.8 L649.4,820.7 L648.9,819.6 L648.3,818.6 L647.6,817.6 L646.9,816.7 L646.0,816.0 L645.1,815.3 L644.2,814.8 L643.2,814.4 L642.2,814.1 L641.2,814.0 L640.3,814.0 L639.3,814.2 L638.5,814.5 L627.5,819.5 Z"/>
<ellipse cx="631.5" cy="827.5" rx="7" ry="9" transform="rotate(-30 631.5 827.5)" class="o"/>
<ellipse cx="631.5" cy="827.5" rx="4.8999999999999995" ry="6.3" transform="rotate(-30 631.5 827.5)" class="d"/>
<path class="o" d="M654.0,818.0 L660.0,815.0 L660.4,814.8 L660.8,814.4 L661.2,814.0 L661.5,813.6 L661.8,813.1 L661.9,812.6 L662.0,812.0 L662.1,811.5 L662.1,810.9 L662.0,810.3 L661.8,809.8 L661.6,809.2 L661.3,808.7 L660.9,808.2 L660.5,807.8 L660.1,807.4 L659.6,807.1 L659.1,806.9 L658.6,806.7 L658.1,806.6 L657.5,806.6 L657.0,806.6 L656.5,806.8 L656.0,807.0 L650.0,810.0 Z"/>
<ellipse cx="652" cy="814" rx="4" ry="4.5" transform="rotate(-25 652 814)" class="o"/>
<ellipse cx="661" cy="809" rx="6" ry="8" transform="rotate(-25 661 809)" class="o"/>
<ellipse cx="661" cy="809" rx="1.5" ry="2" transform="rotate(-25 661 809)" class="d"/>
<path class="o" d="M675.6,804.1 L676.6,803.1 L677.1,802.6 L677.4,802.0 L677.7,801.4 L677.9,800.7 L678.1,800.1 L678.1,799.4 L678.0,798.6 L677.9,797.9 L677.7,797.3 L677.4,796.6 L677.0,796.0 L676.6,795.4 L676.1,794.9 L675.5,794.5 L674.9,794.1 L674.3,793.9 L673.6,793.7 L673.0,793.6 L672.3,793.6 L671.6,793.7 L671.0,793.9 L670.4,794.1 L669.9,794.5 L669.4,794.9 L668.4,795.9 Z"/>
<ellipse cx="672" cy="800" rx="5" ry="5.5" transform="rotate(-25 672 800)" class="o"/>
<ellipse cx="672" cy="800" rx="2.25" ry="2.475" transform="rotate(-25 672 800)" class="d"/>
<path class="o" d="M532.3,888.2 L553.2,876.0 L550.8,872.0 L530.0,884.2 Z"/>
<path class="d" d="M534.9,886.7 L531.2,883.5 M536.8,885.6 L533.1,882.4 M538.7,884.4 L535.0,881.3 M540.6,883.3 L536.9,880.2 M542.5,882.2 L538.8,879.1 M544.4,881.1 L540.7,878.0 M546.3,880.0 L542.6,876.8 M548.2,878.9 L544.5,875.7 "/>
<path class="o" d="M533.8,889.6 L529.6,893.8 L523.8,892.2 L522.2,886.4 L526.4,882.2 L532.2,883.8 Z"/>
<path class="o" d="M866.1,855.5 L879.1,849.5 L880.1,848.9 L881.0,848.1 L881.7,847.1 L882.3,846.0 L882.7,844.7 L882.9,843.3 L882.9,841.8 L882.7,840.2 L882.3,838.6 L881.8,836.9 L881.1,835.3 L880.2,833.7 L879.2,832.2 L878.1,830.7 L876.9,829.4 L875.6,828.2 L874.2,827.2 L872.8,826.3 L871.4,825.7 L870.0,825.2 L868.6,825.0 L867.3,824.9 L866.0,825.1 L864.9,825.5 L851.9,831.5 Z"/>
<ellipse cx="859" cy="843.5" rx="9" ry="14" transform="rotate(-35 859 843.5)" class="o"/>
<ellipse cx="859" cy="843.5" rx="7.6499999999999995" ry="11.9" transform="rotate(-35 859 843.5)" class="d"/>
<ellipse cx="885" cy="809" rx="4" ry="5" transform="rotate(0 885 809)" class="o"/>
<ellipse cx="884" cy="823" rx="4" ry="5" transform="rotate(0 884 823)" class="o"/>
<path class="o" d="M907.9,831.8 L920.9,823.8 L921.9,823.0 L922.8,822.0 L923.5,820.8 L923.9,819.4 L924.2,817.9 L924.3,816.2 L924.2,814.4 L923.8,812.6 L923.3,810.7 L922.5,808.9 L921.6,807.0 L920.5,805.3 L919.3,803.6 L917.9,802.0 L916.5,800.6 L914.9,799.3 L913.4,798.2 L911.8,797.4 L910.2,796.7 L908.6,796.4 L907.1,796.2 L905.6,796.3 L904.3,796.6 L903.1,797.2 L890.1,805.2 Z"/>
<ellipse cx="899" cy="818.5" rx="10" ry="16" transform="rotate(-35 899 818.5)" class="o"/>
<ellipse cx="899" cy="818.5" rx="8.0" ry="12.8" transform="rotate(-35 899 818.5)" class="d"/>
<path class="o" d="M658.1,978.0 L671.1,972.0 L672.1,971.4 L673.0,970.6 L673.7,969.6 L674.3,968.5 L674.7,967.2 L674.9,965.8 L674.9,964.3 L674.7,962.7 L674.3,961.1 L673.8,959.4 L673.1,957.8 L672.2,956.2 L671.2,954.7 L670.1,953.2 L668.9,951.9 L667.6,950.7 L666.2,949.7 L664.8,948.8 L663.4,948.2 L662.0,947.7 L660.6,947.5 L659.3,947.4 L658.0,947.6 L656.9,948.0 L643.9,954.0 Z"/>
<ellipse cx="651" cy="966" rx="9" ry="14" transform="rotate(-35 651 966)" class="o"/>
<ellipse cx="651" cy="966" rx="7.6499999999999995" ry="11.9" transform="rotate(-35 651 966)" class="d"/>
<ellipse cx="673" cy="933" rx="4" ry="5" transform="rotate(0 673 933)" class="o"/>
<ellipse cx="672" cy="947" rx="4" ry="5" transform="rotate(0 672 947)" class="o"/>
<path class="o" d="M694.9,958.3 L707.9,950.3 L708.9,949.5 L709.8,948.5 L710.5,947.3 L710.9,945.9 L711.2,944.4 L711.3,942.7 L711.2,940.9 L710.8,939.1 L710.3,937.2 L709.5,935.4 L708.6,933.5 L707.5,931.8 L706.3,930.1 L704.9,928.5 L703.5,927.1 L701.9,925.8 L700.4,924.7 L698.8,923.9 L697.2,923.2 L695.6,922.9 L694.1,922.7 L692.6,922.8 L691.3,923.1 L690.1,923.7 L677.1,931.7 Z"/>
<ellipse cx="686" cy="945" rx="10" ry="16" transform="rotate(-35 686 945)" class="o"/>
<ellipse cx="686" cy="945" rx="8.0" ry="12.8" transform="rotate(-35 686 945)" class="d"/>
<path class="o" d="M813.7,1047.8 L818.3,1044.3 L823.0,1040.8 L826.5,1037.3 L833.5,1024.5 L841.7,1021.0 L847.5,1016.3 L849.8,1015.2 L856.8,1019.8 L865.0,1029.2 L870.8,1038.5 L873.2,1044.3 L880.2,1036.2 L881.3,1038.5 L875.5,1049.0 L872.0,1061.8 L868.5,1066.5 L859.2,1077.0 L847.5,1086.3 L834.7,1096.8 L825.3,1102.7 L816.0,1105.0 L806.7,1103.8 L805.5,1102.7 L812.5,1100.3 L820.7,1095.7 L823.6,1088.7 L821.8,1079.3 L817.2,1072.3 L812.5,1066.5 L812.5,1063.0 L817.2,1058.3 L814.8,1052.5 Z"/>
<path class="n" d="M816.0,1046.7 C817.5,1045.7 822.0,1042.9 825.3,1040.8 C828.6,1038.7 832.1,1035.8 836.0,1034.0 C839.9,1032.2 845.8,1029.5 848.7,1030.3 C851.6,1031.0 852.7,1035.4 853.3,1038.5 C853.9,1041.6 853.8,1046.1 852.2,1049.0 C850.7,1051.9 846.5,1055.0 844.0,1056.0 C841.5,1057.0 839.5,1055.8 837.0,1054.8 C834.5,1053.8 832.1,1051.5 828.8,1050.2 C825.5,1048.9 819.1,1047.3 817.2,1046.7 "/>
<ellipse cx="842.8" cy="1037.3" rx="4" ry="4" transform="rotate(0 842.8 1037.3)" class="d"/>
<path class="n" d="M837,1058 C840,1066 843,1076 844,1087 M844,1057 C848,1065 851,1075 850,1084 M840,1058 C843,1066 846,1076 847,1086"/>
<path class="m" d="M850,1017 C857,1025 861,1035 862,1045 L863,1058"/>
<path class="d" d="M808,1103 C825,1095 845,1084 860,1074 C870,1065 875,1055 876,1045"/>
<path class="d" d="M817,1050 C830,1056 838,1062 841,1068"/>
<ellipse cx="938" cy="978" rx="5" ry="5" transform="rotate(0 938 978)" class="o"/>
<ellipse cx="937" cy="978" rx="2" ry="2" transform="rotate(0 937 978)" class="o"/>
<path class="o" d="M916.8,1000.9 L917.8,999.4 L918.3,998.6 L918.6,997.7 L918.9,996.9 L919.0,996.0 L919.0,995.0 L918.9,994.1 L918.6,993.2 L918.3,992.4 L917.8,991.6 L917.3,990.9 L916.6,990.2 L915.9,989.7 L915.1,989.2 L914.2,988.9 L913.4,988.6 L912.5,988.5 L911.5,988.5 L910.6,988.6 L909.7,988.9 L908.9,989.2 L908.1,989.7 L907.4,990.2 L906.7,990.9 L906.2,991.6 L905.2,993.1 Z"/>
<ellipse cx="911" cy="997" rx="7" ry="7" transform="rotate(0 911 997)" class="o"/>
<ellipse cx="911" cy="997" rx="3.15" ry="3.15" transform="rotate(0 911 997)" class="d"/>
<path class="o" d="M888.8,1021.9 L889.8,1020.4 L890.3,1019.6 L890.6,1018.7 L890.9,1017.9 L891.0,1017.0 L891.0,1016.0 L890.9,1015.1 L890.6,1014.2 L890.3,1013.4 L889.8,1012.6 L889.3,1011.9 L888.6,1011.2 L887.9,1010.7 L887.1,1010.2 L886.2,1009.9 L885.4,1009.6 L884.5,1009.5 L883.5,1009.5 L882.6,1009.6 L881.7,1009.9 L880.9,1010.2 L880.1,1010.7 L879.4,1011.2 L878.7,1011.9 L878.2,1012.6 L877.2,1014.1 Z"/>
<ellipse cx="883" cy="1018" rx="7" ry="7" transform="rotate(0 883 1018)" class="o"/>
<ellipse cx="883" cy="1018" rx="3.15" ry="3.15" transform="rotate(0 883 1018)" class="d"/>
<path class="o" d="M793,1057 L804,1049 L811,1058 L801,1066 Z"/>
<ellipse cx="802" cy="1057" rx="1.2" ry="1.2" transform="rotate(0 802 1057)" class="d"/>
<path class="o" d="M774.5,1088.2 L776.5,1084.2 L776.7,1083.6 L776.9,1083.0 L777.0,1082.4 L777.0,1081.7 L776.9,1081.1 L776.7,1080.4 L776.5,1079.8 L776.2,1079.2 L775.8,1078.7 L775.3,1078.3 L774.8,1077.9 L774.2,1077.5 L773.6,1077.3 L773.0,1077.1 L772.4,1077.0 L771.7,1077.0 L771.1,1077.1 L770.4,1077.3 L769.8,1077.5 L769.2,1077.8 L768.7,1078.2 L768.3,1078.7 L767.9,1079.2 L767.5,1079.8 L765.5,1083.8 Z"/>
<ellipse cx="770" cy="1086" rx="5" ry="5" transform="rotate(-20 770 1086)" class="o"/>
<ellipse cx="779" cy="1099" rx="5.5" ry="3.5" transform="rotate(30 779 1099)" class="o"/>
<path class="o" d="M584,452 L598,450 L603,463 L592,468 L583,462 Z"/>
<path class="o" d="M596.5,427.0 L588.5,424.0 L587.5,423.7 L586.4,423.8 L585.2,424.0 L584.0,424.6 L582.8,425.4 L581.6,426.4 L580.4,427.6 L579.3,429.1 L578.2,430.7 L577.2,432.4 L576.3,434.3 L575.5,436.2 L574.9,438.2 L574.3,440.2 L574.0,442.2 L573.8,444.1 L573.7,445.9 L573.8,447.6 L574.1,449.2 L574.5,450.6 L575.0,451.8 L575.7,452.8 L576.6,453.5 L577.5,454.0 L585.5,457.0 Z"/>
<ellipse cx="591" cy="442" rx="8" ry="16" transform="rotate(20 591 442)" class="o"/>
<ellipse cx="591" cy="442" rx="6.4" ry="12.8" transform="rotate(20 591 442)" class="n"/>
<ellipse cx="592" cy="460" rx="5" ry="5" transform="rotate(0 592 460)" class="o"/>
<ellipse cx="592" cy="460" rx="2" ry="2" transform="rotate(0 592 460)" class="o"/>
<path class="o" d="M639.7,443.5 L623.7,440.5 L622.8,440.4 L621.9,440.6 L620.9,441.1 L620.0,441.8 L619.0,442.7 L618.1,443.9 L617.2,445.2 L616.3,446.7 L615.5,448.3 L614.8,450.1 L614.1,451.9 L613.6,453.8 L613.2,455.7 L612.9,457.6 L612.7,459.5 L612.6,461.2 L612.7,462.9 L612.9,464.4 L613.2,465.8 L613.6,467.0 L614.2,468.0 L614.8,468.7 L615.5,469.3 L616.3,469.5 L632.3,472.5 Z"/>
<ellipse cx="636" cy="458" rx="6.5" ry="15" transform="rotate(15 636 458)" class="o"/>
<ellipse cx="636" cy="458" rx="4.875" ry="11.25" transform="rotate(15 636 458)" class="d"/>
<path class="o" d="M584.5,475.3 L585.5,474.3 L586.0,473.7 L586.5,473.1 L586.8,472.4 L587.2,471.7 L587.4,471.0 L587.6,470.2 L587.7,469.5 L587.7,468.7 L587.6,468.0 L587.5,467.3 L587.3,466.6 L587.0,466.0 L586.6,465.5 L586.2,465.1 L585.7,464.7 L585.2,464.4 L584.6,464.2 L584.0,464.2 L583.4,464.2 L582.8,464.3 L582.2,464.5 L581.6,464.8 L581.0,465.2 L580.5,465.7 L579.5,466.7 Z"/>
<ellipse cx="582" cy="471" rx="4.5" ry="6" transform="rotate(20 582 471)" class="o"/>
<ellipse cx="582" cy="471" rx="1.8" ry="2.4000000000000004" transform="rotate(20 582 471)" class="d"/>
<path class="o" d="M566.3,491.5 L581.4,476.4 L578.6,473.6 L563.5,488.7 Z"/>
<path class="d" d="M568.4,489.4 L564.5,487.7 M570.0,487.8 L566.0,486.1 M571.6,486.3 L567.6,484.6 M573.1,484.7 L569.2,483.0 M574.7,483.2 L570.7,481.5 M576.2,481.6 L572.3,479.9 M577.8,480.0 L573.8,478.4 "/>
<path class="o" d="M567.3,493.2 L564.2,496.3 L559.8,495.2 L558.7,490.8 L561.8,487.7 L566.2,488.8 Z"/>
<path class="o" d="M900,478 C906,478 913,481 914,485 L907,489 Z"/>
<path class="o" d="M892,479 C892,473 901,473 901,478 L901,490 L893,491 Z"/>
<path class="o" d="M894,491 L913,490 L911,521 L906,516 L887,516 L891,515 Z"/>
<path class="o" d="M899,522 C904,521 908,522 909,525 C908,529 903,531 899,531 Z"/>
<path class="o" d="M891,517 L899,517 L899,534 L892,534 Z"/>
<g>
<line class="l" x1="569.7" y1="66.9" x2="589" y2="99"/>
<line class="l" x1="714.7" y1="81.8" x2="732.5" y2="112.5"/>
<line class="l" x1="839.6" y1="196.9" x2="861" y2="230"/>
<line class="l" x1="874.6" y1="248.7" x2="845" y2="267.5"/>
<line class="l" x1="908.0" y1="271.1" x2="877.5" y2="292.5"/>
<line class="l" x1="917.1" y1="298.6" x2="886" y2="320"/>
<line class="l" x1="808.6" y1="322.2" x2="790" y2="285"/>
<line class="l" x1="841.8" y1="362.4" x2="852.5" y2="325"/>
<line class="l" x1="917.1" y1="348.6" x2="884" y2="370"/>
<line class="l" x1="965.9" y1="397.7" x2="932.5" y2="417.5"/>
<line class="l" x1="742.2" y1="359.7" x2="724" y2="327.5"/>
<line class="l" x1="715.3" y1="368.1" x2="696" y2="336"/>
<line class="l" x1="687.9" y1="381.3" x2="676" y2="350"/>
<line class="l" x1="489.6" y1="237.9" x2="511" y2="271"/>
<line class="l" x1="471.2" y1="243.9" x2="491" y2="276"/>
<line class="l" x1="448.6" y1="257.9" x2="471" y2="292.5"/>
<line class="l" x1="595.4" y1="252.1" x2="574" y2="220"/>
<line class="l" x1="614.0" y1="248.0" x2="590" y2="215"/>
<line class="l" x1="632.4" y1="234.6" x2="610" y2="200"/>
<line class="l" x1="269.7" y1="261.9" x2="290" y2="295"/>
<line class="l" x1="356.3" y1="429.6" x2="335" y2="395"/>
<line class="l" x1="626.0" y1="404.5" x2="594" y2="427.5"/>
<line class="l" x1="672.2" y1="427.8" x2="637.5" y2="447.5"/>
<line class="l" x1="540.1" y1="460.4" x2="577.5" y2="470"/>
<line class="l" x1="617.5" y1="500.4" x2="565" y2="491"/>
<line class="l" x1="481.2" y1="503.8" x2="462.5" y2="514"/>
<line class="l" x1="372.5" y1="493.0" x2="384" y2="509"/>
<line class="l" x1="337.4" y1="535.6" x2="360" y2="562.5"/>
<line class="l" x1="808.8" y1="471.2" x2="844" y2="452.5"/>
<line class="l" x1="948.8" y1="512.1" x2="927.5" y2="477.5"/>
<line class="l" x1="855.3" y1="540.3" x2="890" y2="520"/>
<line class="l" x1="796.2" y1="553.8" x2="769" y2="569"/>
<line class="l" x1="679.5" y1="583.5" x2="684" y2="607.5"/>
<line class="l" x1="518.7" y1="600.4" x2="539" y2="632.5"/>
<line class="l" x1="636.1" y1="612.9" x2="649" y2="632.5"/>
<line class="l" x1="701.4" y1="639.5" x2="675" y2="634"/>
<line class="l" x1="468.7" y1="612.2" x2="455" y2="587.5"/>
<line class="l" x1="410.5" y1="634.9" x2="407.5" y2="621"/>
<line class="l" x1="715.2" y1="669.1" x2="757.5" y2="686"/>
<line class="l" x1="569.5" y1="688.0" x2="582.5" y2="670"/>
<line class="l" x1="625.4" y1="691.5" x2="620" y2="660"/>
<line class="l" x1="601.1" y1="707.5" x2="600" y2="682.5"/>
<line class="l" x1="551.3" y1="722.1" x2="532.5" y2="692.5"/>
<line class="l" x1="708.7" y1="702.9" x2="730" y2="737.5"/>
<line class="l" x1="737.7" y1="705.4" x2="750" y2="725"/>
<line class="l" x1="958.8" y1="697.2" x2="940" y2="665"/>
<line class="l" x1="488.6" y1="756.1" x2="506" y2="730"/>
<line class="l" x1="786.8" y1="739.3" x2="772.5" y2="725"/>
<line class="l" x1="813.8" y1="736.1" x2="797.5" y2="710"/>
<line class="l" x1="568.0" y1="776.7" x2="579" y2="801"/>
<line class="l" x1="619.7" y1="790.4" x2="635" y2="815"/>
<line class="l" x1="642.8" y1="776.8" x2="656" y2="801"/>
<line class="l" x1="603.7" y1="812.9" x2="614" y2="830"/>
<line class="l" x1="675.8" y1="819.9" x2="671" y2="805"/>
<line class="l" x1="251.3" y1="794.6" x2="232.5" y2="765"/>
<line class="l" x1="443.8" y1="827.1" x2="422.5" y2="792.5"/>
<line class="l" x1="926.4" y1="854.6" x2="910" y2="830"/>
<line class="l" x1="888.8" y1="873.1" x2="875" y2="851"/>
<line class="l" x1="572.9" y1="909.1" x2="542.5" y2="884"/>
<line class="l" x1="827.3" y1="934.7" x2="810" y2="905"/>
<line class="l" x1="711.3" y1="997.2" x2="691" y2="962.5"/>
<line class="l" x1="685.3" y1="1011.1" x2="665" y2="977.5"/>
<line class="l" x1="777.5" y1="1025.5" x2="797.5" y2="1052.5"/>
<line class="l" x1="961.5" y1="1012.0" x2="940" y2="982.5"/>
<line class="l" x1="935.3" y1="1034.6" x2="915" y2="1001"/>
<line class="l" x1="906.3" y1="1054.6" x2="886" y2="1022.5"/>
<line class="l" x1="878.9" y1="1106.0" x2="860" y2="1079"/>
<line class="l" x1="742.5" y1="1122.0" x2="767.5" y2="1090"/>
<line class="l" x1="741.8" y1="1121.2" x2="775" y2="1102.5"/>
</g><g>
<text x="565" y="65.5">6</text>
<text x="717.5" y="79.3">29</text>
<text x="831" y="195.8">37</text>
<text x="887.5" y="249.3">17</text>
<text x="924" y="267.8">15</text>
<text x="934" y="296.8">32</text>
<text x="811" y="339.3">25</text>
<text x="835" y="379.3">13</text>
<text x="926" y="347.8">9</text>
<text x="982.5" y="396.8">20</text>
<text x="750" y="377.8">26</text>
<text x="717.5" y="384.3">27</text>
<text x="690" y="396.8">21</text>
<text x="496" y="236.8">21</text>
<text x="466" y="241.8">30</text>
<text x="436" y="255.8">31</text>
<text x="590" y="270.8">21</text>
<text x="615" y="265.8">30</text>
<text x="640" y="251.8">31</text>
<text x="266" y="259.3">7</text>
<text x="363.75" y="446.8">29</text>
<text x="639" y="406.8">17</text>
<text x="684" y="427.8">15</text>
<text x="529" y="467.8">13</text>
<text x="629" y="505.8">32</text>
<text x="493" y="502.8">11</text>
<text x="366" y="492.8">19</text>
<text x="326" y="534.3">12</text>
<text x="800" y="481.8">19</text>
<text x="951" y="529.3">20</text>
<text x="842.5" y="550.8">10</text>
<text x="809" y="552.8">28</text>
<text x="677.5" y="579.3">23</text>
<text x="515" y="596.8">8</text>
<text x="631" y="607.8">25</text>
<text x="715" y="644.3">24</text>
<text x="476" y="627.8">20</text>
<text x="412.5" y="652.8">20</text>
<text x="704" y="674.3">18</text>
<text x="569" y="704.3">22</text>
<text x="630" y="707.8">22</text>
<text x="601" y="722.8">34</text>
<text x="557.5" y="739.3">33</text>
<text x="700" y="702.8">23</text>
<text x="740" y="702.8">24</text>
<text x="961" y="715.8">1</text>
<text x="485" y="770.8">22</text>
<text x="789" y="755.8">25</text>
<text x="820" y="751.8">34</text>
<text x="569" y="775.8">18</text>
<text x="610" y="790.8">26</text>
<text x="636" y="775.8">27</text>
<text x="605" y="810.8">25</text>
<text x="677.5" y="839.3">21</text>
<text x="260" y="812.8">28</text>
<text x="447.5" y="844.3">2</text>
<text x="936" y="867.8">14</text>
<text x="897.5" y="889.3">16</text>
<text x="586" y="921.8">36</text>
<text x="832.5" y="951.8">5</text>
<text x="720" y="1009.3">14</text>
<text x="692.5" y="1025.8">16</text>
<text x="772.5" y="1022.8">46</text>
<text x="971" y="1024.3">45</text>
<text x="945" y="1049.3">43</text>
<text x="915" y="1068.8">44</text>
<text x="886" y="1122.8">41</text>
<text x="731" y="1136.8">42</text>
</g></svg></body></html>
